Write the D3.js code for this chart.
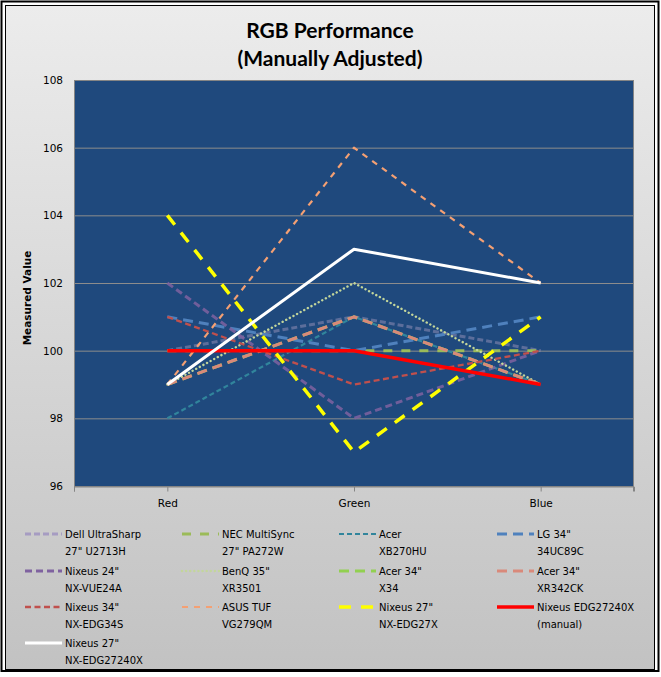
<!DOCTYPE html>
<html><head><meta charset="utf-8">
<script src="https://cdn.jsdelivr.net/npm/d3@7"></script>
<style>body{margin:0;background:#fff}svg{display:block}</style>
</head><body>
<svg id="c" width="661" height="677"></svg>
<script>
const categories = ["Red", "Green", "Blue"];
const yTicks = [96, 98, 100, 102, 104, 106, 108];
const seriesNames = [
  ["Dell UltraSharp", "27\" U2713H"],
  ["NEC MultiSync", "27\" PA272W"],
  ["Acer", "XB270HU"],
  ["LG 34\"", "34UC89C"],
  ["Nixeus 24\"", "NX-VUE24A"],
  ["BenQ 35\"", "XR3501"],
  ["Acer 34\"", "X34"],
  ["Acer 34\"", "XR342CK"],
  ["Nixeus 34\"", "NX-EDG34S"],
  ["ASUS TUF", "VG279QM"],
  ["Nixeus 27\"", "NX-EDG27X"],
  ["Nixeus EDG27240X", "(manual)"],
  ["Nixeus 27\"", "NX-EDG27240X"]
];
const dellU2713H   = [100, 101, 100];
const necPA272W    = [100, 100, 100];
const acerXB270HU  = [98, 101, 99];
const lg34UC89C    = [101, 100, 101];
const nixeusVUE24A = [102, 98, 100];
const benqXR3501   = [99, 102, 99];
const acerX34      = [99, 101, 99];
const acerXR342CK  = [99, 101, 99];
const nixeusEDG34S = [101, 99, 100];
const asusVG279QM  = [99, 106, 102];
const nixeusEDG27X = [104, 97, 101];
const nixeusManual = [100, 100, 99];
const nixeusEDG27240X = [99, 103, 102];
const seriesValues = [dellU2713H, necPA272W, acerXB270HU, lg34UC89C, nixeusVUE24A, benqXR3501,
  acerX34, acerXR342CK, nixeusEDG34S, asusVG279QM, nixeusEDG27X, nixeusManual, nixeusEDG27240X];

const styles = [
  {c:"#a69cc2", w:3, d:"6,3", o:0.45, lc:"#a69cc2"},
  {c:"#9bbb59", w:3, d:"9,9", o:1},
  {c:"#31859c", w:2.2, d:"5,3", o:1},
  {c:"#4f81bd", w:3, d:"10,6", o:1},
  {c:"#7f62a0", w:3, d:"7,4", o:0.85},
  {c:"#c3d69b", w:2.4, d:"0.1,4", o:1, cap:"round"},
  {c:"#92d050", w:3, d:"10,6", o:1},
  {c:"#d9897a", w:3, d:"10,6", o:1},
  {c:"#c0504d", w:2.3, d:"6,3.5", o:1},
  {c:"#f4a073", w:2.2, d:"6,6", o:1},
  {c:"#ffff00", w:3.5, d:"12,10", o:1},
  {c:"#ff0000", w:3.5, d:null, o:1},
  {c:"#ffffff", w:3, d:null, o:1}
];

const svg = d3.select("#c");
const defs = svg.append("defs");
const g = defs.append("linearGradient").attr("id","bg").attr("x1",0).attr("y1",0).attr("x2",0).attr("y2",1);
g.append("stop").attr("offset","0%").attr("stop-color","#ececec");
g.append("stop").attr("offset","100%").attr("stop-color","#c2c2c2");

svg.append("rect").attr("x",1.5).attr("y",1.5).attr("width",657).attr("height",669.5)
  .attr("fill","none").attr("stroke","#000").attr("stroke-width",2);
svg.append("rect").attr("x",5.5).attr("y",5.5).attr("width",649).attr("height",664)
  .attr("fill","url(#bg)").attr("stroke","#000").attr("stroke-width",1);

const L = 74, R = 634, T = 80, B = 486;
const x = d3.scalePoint().domain(categories).range([L, R]).padding(0.5);
const y = d3.scaleLinear().domain([96, 108]).range([B, T]);

svg.append("rect").attr("x",L).attr("y",T).attr("width",R-L).attr("height",B-T)
  .attr("fill","#1f497d");
svg.append("g").selectAll("line").data(yTicks.slice(1)).join("line")
  .attr("x1",L).attr("x2",R).attr("y1",d=>y(d)+0.5).attr("y2",d=>y(d)+0.5)
  .attr("stroke","#8c8c8c").attr("stroke-width",1);
svg.append("rect").attr("x",L+0.5).attr("y",T+0.5).attr("width",R-L-1).attr("height",B-T)
  .attr("fill","none").attr("stroke","#858585").attr("stroke-width",1);

// y labels
svg.append("g").selectAll("text").data(yTicks).join("text")
  .attr("x",63).attr("y",d=>y(d)+4).attr("text-anchor","end")
  .attr("font-family","DejaVu Sans").attr("font-size",10.5).attr("fill","#000").text(d=>d);
svg.append("text").attr("transform","translate(31,298) rotate(-90)")
  .attr("text-anchor","middle").attr("font-family","DejaVu Sans").attr("font-weight","bold")
  .attr("font-size",10.5).text("Measured Value");

// x axis
const xa = svg.append("g").attr("transform",`translate(0,${B+0.5})`)
  .call(d3.axisBottom(x).tickSize(5).tickPadding(8));
xa.select(".domain").attr("stroke","#858585");
xa.selectAll(".tick line").attr("stroke","#858585");
xa.selectAll(".tick text").attr("font-family","DejaVu Sans").attr("font-size",10.5).attr("fill","#000");
[L+0.5, R-0.5].forEach(px => xa.append("line").attr("x1",px).attr("x2",px).attr("y1",0).attr("y2",5).attr("stroke","#858585"));

// lines
const line = d3.line().x((d,i)=>x(categories[i])).y(d=>y(d));
const lg = svg.append("g");
seriesValues.forEach((vals, i) => {
  const s = styles[i];
  lg.append("path").datum(vals).attr("d", line).attr("fill","none")
    .attr("stroke", s.c).attr("stroke-width", s.w).attr("stroke-opacity", s.o)
    .attr("stroke-dasharray", s.d).attr("stroke-linejoin","round")
    .attr("stroke-linecap", s.cap || "butt");
});

// legend
const colX = [65, 222, 379, 537];
const rowY = [534, 571, 607, 643];
const leg = svg.append("g");
seriesNames.forEach((nm, i) => {
  const s = styles[i];
  const cx = colX[i % 4], cy = rowY[Math.floor(i / 4)];
  leg.append("line").attr("x1", cx-40).attr("x2", cx-3).attr("y1", cy).attr("y2", cy)
    .attr("stroke", s.lc || s.c).attr("stroke-width", s.w).attr("stroke-dasharray", s.d)
    .attr("stroke-linecap", s.cap || "butt");
  const t = leg.append("text").attr("x", cx).attr("y", cy+4)
    .attr("font-family","DejaVu Sans").attr("font-size",10).attr("fill","#000");
  t.append("tspan").attr("x", cx).text(nm[0]);
  t.append("tspan").attr("x", cx).attr("dy", 17).text(nm[1]);
});

// title
svg.append("text").attr("x",330).attr("y",38).attr("text-anchor","middle")
  .attr("font-family","Lato").attr("font-weight","bold").attr("font-size",21).text("RGB Performance");
svg.append("text").attr("x",330).attr("y",66).attr("text-anchor","middle")
  .attr("font-family","Lato").attr("font-weight","bold").attr("font-size",21).text("(Manually Adjusted)");
</script>
</body></html>
